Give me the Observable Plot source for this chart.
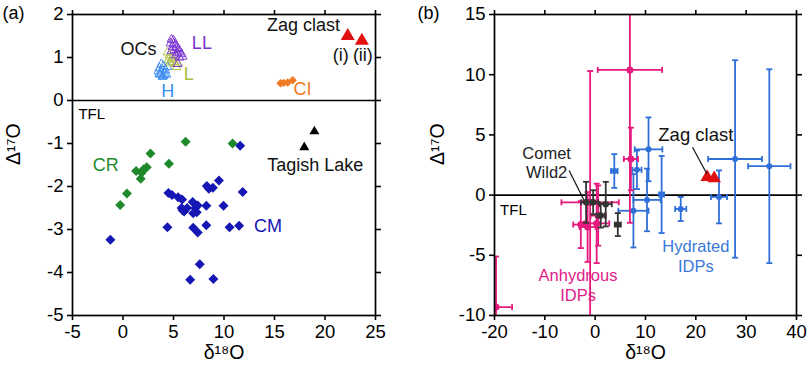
<!DOCTYPE html>
<html><head><meta charset="utf-8">
<script src="https://cdn.jsdelivr.net/npm/d3@7"></script>
<script src="https://cdn.jsdelivr.net/npm/@observablehq/plot@0.6"></script>
<style>
html,body{margin:0;padding:0;background:#fff;}
#wrap{display:flex;width:808px;height:369px;overflow:hidden;}
#wrap > div{width:404px;height:369px;}
svg{display:block;}
</style></head><body><div id="wrap"><div id="pa"></div><div id="pb"></div></div>
<script>
// ---------- Panel (a) data ----------
const xTicksA = [-5, 0, 5, 10, 15, 20, 25];
const yTicksA = [-5, -4, -3, -2, -1, 0, 1, 2];
const cmPoints = [[-1.25,-3.24],[4.4,-2.95],[4.5,-2.15],[4.85,-2.2],[5.45,-2.25],[5.85,-2.3],[5.8,-2.5],[6.05,-2.58],[6.35,-2.5],[6.9,-2.36],[7.15,-2.5],[7.3,-2.6],[7.4,-2.44],[6.95,-2.96],[7.4,-3.07],[8.25,-2.45],[8.25,-2.9],[8.3,-1.99],[8.9,-2.03],[9.5,-1.86],[9.95,-2.45],[10.55,-2.95],[11.5,-2.91],[11.85,-2.13],[11.6,-1.05],[7.6,-3.81],[6.65,-4.17],[8.95,-4.15],[5.9,-2.55],[6.95,-2.62],[8.5,-2.05]];
const crPoints = [[-0.28,-2.43],[0.39,-2.16],[1.75,-1.82],[1.3,-1.64],[2.05,-1.6],[2.35,-1.55],[1.85,-1.68],[2.72,-1.23],[4.55,-1.47],[6.2,-0.96],[10.85,-1.0]];
const ciPoints = [[15.6,0.4],[15.9,0.41],[16.3,0.42],[16.8,0.47]];
const zagPoints = [[22.25,1.5],[23.65,1.39]];
const tagishPoints = [[17.95,-1.09],[18.95,-0.72]];
const ocH = [[3.8,0.85],[4.0,0.8],[3.6,0.75],[3.9,0.72],[4.2,0.7],[3.5,0.68],[3.8,0.65],[4.1,0.62],[3.7,0.6],[4.0,0.57],[4.3,0.6],[3.9,0.55],[4.4,0.78],[3.6,0.62]];
const ocL = [[4.4,1.12],[4.6,1.05],[4.8,0.98],[4.5,0.95],[5.0,0.9],[5.2,0.85],[4.7,0.88],[5.3,0.78],[4.9,1.0],[5.45,0.86]];
const ocLL = [[4.8,1.42],[5.0,1.4],[4.7,1.33],[5.0,1.32],[5.2,1.3],[4.9,1.25],[5.3,1.22],[5.5,1.2],[5.1,1.18],[5.6,1.12],[5.8,1.08],[5.4,1.1],[5.2,1.05],[5.9,1.02],[5.6,1.0],[4.8,1.15],[5.4,0.85]];
const labelsA = [
  {text:"OCs", x:1.53, y:1.2, color:"#111"},
  {text:"LL", x:7.81, y:1.33, color:"#7a32d0"},
  {text:"L", x:6.52, y:0.62, color:"#a9bd3c"},
  {text:"H", x:4.44, y:0.22, color:"#3b8cf0"},
  {text:"Zag clast", x:17.87, y:1.74, color:"#111"},
  {text:"(i)", x:21.57, y:1.05, color:"#111"},
  {text:"(ii)", x:23.75, y:1.05, color:"#111"},
  {text:"CI", x:17.77, y:0.27, color:"#f07a22"},
  {text:"CR", x:-1.71, y:-1.5, color:"#1e8a2c"},
  {text:"CM", x:14.35, y:-2.93, color:"#1616b4"},
  {text:"Tagish Lake", x:19.03, y:-1.5, color:"#111"}
];
const tflA = [{text:"TFL", x:-4.41, y:-0.31}];

// ---------- Panel (b) data ----------
const xTicksB = [-20, -10, 0, 10, 20, 30, 40];
const yTicksB = [-10, -5, 0, 5, 10, 15];
// [δ18O, Δ17O, δ18O error, Δ17O error]
const anhydrousIDPs = [[-19.7,-9.3,3.2,4.2],[6.9,10.4,6.4,12.7],[7.1,3.0,1.4,2.6],[-1.0,-0.6,5.7,10.9],[-2.85,-2.45,1.5,1.95],[-1.5,-2.65,1.6,2.9],[0.3,-2.35,2.5,3.3],[0.6,-1.7,1.5,2.5]];
const hydratedIDPs = [[3.8,2.0,0.65,1.4],[8.3,2.1,0.9,1.6],[10.6,3.8,2.75,2.65],[10.3,-0.4,2.7,2.6],[13.2,0.05,0.5,3.2],[7.6,-1.3,3.0,3.05],[17.0,-1.15,1.1,1.0],[24.6,-0.15,1.6,2.2],[27.8,3.0,5.35,8.2],[34.6,2.4,4.2,8.05]];
const cometWild2 = [[-1.8,-0.6,1.0,1.7],[-0.4,-0.6,1.0,1.0],[1.1,-1.7,0.8,1.0],[2.1,-0.75,1.2,1.85],[4.5,-2.45,0.6,0.95]];
const labelsB = [
  {text:"Comet\nWild2", x:-9.64, y:2.73, color:"#222", size:16.5},
  {text:"Zag clast", x:20.0, y:5.09, color:"#111", size:18.5},
  {text:"Hydrated\nIDPs", x:20.0, y:-5.02, color:"#3b78d8", size:16.5},
  {text:"Anhydrous\nIDPs", x:-3.41, y:-7.47, color:"#e0208a", size:16.5}
];
const tflB = [{text:"TFL", x:-18.89, y:-1.28}];
const leadersB = [
  {x1:-5.18, y1:2.04, x2:-2.2, y2:-0.45},
  {x1:19.34, y1:3.98, x2:22.18, y2:1.77}
];

// ---------- helpers ----------
const FONT = "'Liberation Sans', Arial, Helvetica, sans-serif";
const hcap = {draw(ctx, size){ const r = Math.sqrt(size/Math.PI); ctx.moveTo(-r,0); ctx.lineTo(r,0); }};
const vcap = {draw(ctx, size){ const r = Math.sqrt(size/Math.PI); ctx.moveTo(0,-r); ctx.lineTo(0,r); }};

function frameAxes(xTicks, yTicks) {
  const c = {tickSize: 5, strokeWidth: 1.6, label: null};
  return [
    Plot.axisX({...c, ticks: xTicks, anchor: "bottom", tickPadding: 4, tickFormat: d => String(d), fontSize: 18.5}),
    Plot.axisX({...c, ticks: xTicks, anchor: "top", tickFormat: () => ""}),
    Plot.axisY({...c, ticks: yTicks, anchor: "left", tickPadding: 4, tickFormat: d => String(d), fontSize: 18.5}),
    Plot.axisY({...c, ticks: yTicks, anchor: "right", tickFormat: () => ""}),
    Plot.frame({stroke: "black", strokeWidth: 1.7})
  ];
}
function axisLabels(tag, tagDx, yDx) {
  return [
    Plot.text(["δ¹⁸O"], {text: d => d, frameAnchor: "bottom", dy: 37, lineAnchor: "middle", fontSize: 19.5}),
    Plot.text(["Δ¹⁷O"], {text: d => d, frameAnchor: "left", dx: yDx, rotate: -90, lineAnchor: "middle", fontSize: 19.5}),
    Plot.text([tag], {text: d => d, frameAnchor: "top-left", dx: tagDx, dy: -1, textAnchor: "start", lineAnchor: "middle", fontSize: 18})
  ];
}
function errorBars(data, color, r) {
  const X = d => d[0], Y = d => d[1];
  return [
    Plot.ruleX(data, {x: X, y1: d => d[1]-d[3], y2: d => d[1]+d[3], stroke: color, strokeWidth: 1.8, clip: true}),
    Plot.ruleY(data, {y: Y, x1: d => d[0]-d[2], x2: d => d[0]+d[2], stroke: color, strokeWidth: 1.8, clip: true}),
    Plot.dot(data.flatMap(d => [[d[0], d[1]-d[3]], [d[0], d[1]+d[3]]]), {x: X, y: Y, symbol: hcap, r: 3, fill: "none", stroke: color, strokeWidth: 1.8, clip: true}),
    Plot.dot(data.flatMap(d => [[d[0]-d[2], d[1]], [d[0]+d[2], d[1]]]), {x: X, y: Y, symbol: vcap, r: 3, fill: "none", stroke: color, strokeWidth: 1.8, clip: true}),
    Plot.dot(data, {x: X, y: Y, r: r, fill: color, stroke: "none", clip: true})
  ];
}
const X0 = d => d[0], Y1 = d => d[1];

// ---------- Panel (a) ----------
const plotA = Plot.plot({
  width: 404, height: 369,
  marginLeft: 72, marginRight: 29, marginTop: 14, marginBottom: 54,
  style: {fontFamily: FONT, fontSize: "18px", color: "black", background: "white"},
  x: {domain: [-5, 25]},
  y: {domain: [-5, 2]},
  color: {type: "identity"},
  marks: [
    Plot.ruleY([0], {stroke: "black", strokeWidth: 1.6}),
    Plot.dot(ocH, {x: X0, y: Y1, symbol: "triangle", r: 3.3, fill: "none", stroke: "#3b8cf0", strokeWidth: 0.9}),
    Plot.dot(ocL, {x: X0, y: Y1, symbol: "triangle", r: 3.3, fill: "none", stroke: "#a9bd3c", strokeWidth: 0.9}),
    Plot.dot(ocLL, {x: X0, y: Y1, symbol: "triangle", r: 3.3, fill: "none", stroke: "#7a32d0", strokeWidth: 0.9}),
    Plot.dot(crPoints, {x: X0, y: Y1, symbol: "diamond2", r: 4.5, fill: "#1e8a2c"}),
    Plot.dot(cmPoints, {x: X0, y: Y1, symbol: "diamond2", r: 4.5, fill: "#1616b4"}),
    Plot.dot(ciPoints, {x: X0, y: Y1, symbol: "diamond2", r: 3.8, fill: "#f07a22"}),
    Plot.dot(tagishPoints, {x: X0, y: Y1, symbol: "triangle", r: 3.7, fill: "black"}),
    Plot.dot(zagPoints, {x: X0, y: Y1, symbol: "triangle", r: 5.2, fill: "#e01010"}),
    Plot.text(labelsA, {x: "x", y: "y", text: "text", fill: "color", fontSize: 18}),
    Plot.text(tflA, {x: "x", y: "y", text: "text", textAnchor: "start", fontSize: 15}),
    ...frameAxes(xTicksA, yTicksA),
    ...axisLabels("(a)", -70, -59)
  ]
});
document.getElementById("pa").appendChild(plotA);

// ---------- Panel (b) ----------
const plotB = Plot.plot({
  width: 404, height: 369,
  marginLeft: 90, marginRight: 12, marginTop: 14, marginBottom: 54,
  style: {fontFamily: FONT, fontSize: "18px", color: "black", background: "white"},
  x: {domain: [-20, 40]},
  y: {domain: [-10, 15]},
  color: {type: "identity"},
  marks: [
    Plot.ruleY([0], {stroke: "black", strokeWidth: 1.6}),
    ...errorBars(hydratedIDPs, "#2f6fd8", 3),
    ...errorBars(anhydrousIDPs, "#e6197d", 3.5),
    ...errorBars(cometWild2, "#333333", 3.2),
    Plot.dot(zagPoints, {x: X0, y: Y1, symbol: "triangle", r: 5, fill: "#e01010"}),
    Plot.link(leadersB, {x1: "x1", y1: "y1", x2: "x2", y2: "y2", stroke: "#111", strokeWidth: 1.2}),
    Plot.text(labelsB, {x: "x", y: "y", text: "text", fill: "color", fontSize: d => d.size, lineHeight: 1.2}),
    Plot.text(tflB, {x: "x", y: "y", text: "text", textAnchor: "start", fontSize: 15}),
    ...frameAxes(xTicksB, yTicksB),
    ...axisLabels("(b)", -77, -57)
  ]
});
document.getElementById("pb").appendChild(plotB);
</script></body></html>
